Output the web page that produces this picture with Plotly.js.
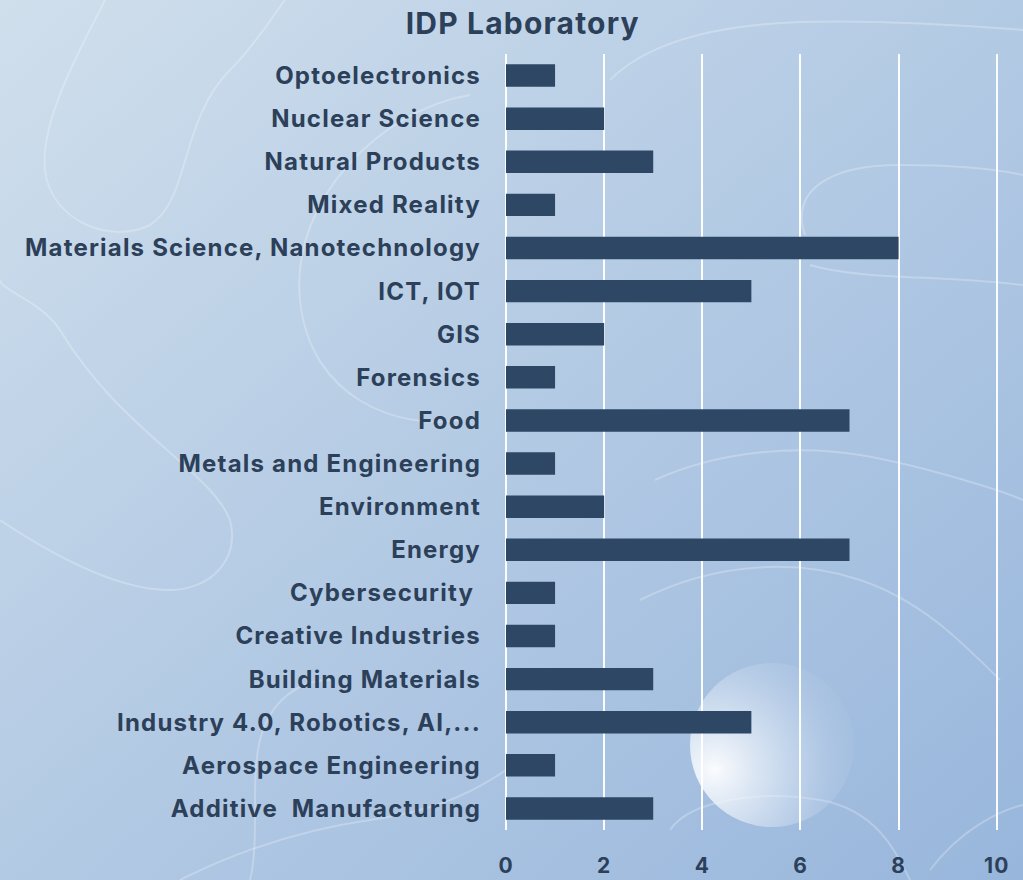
<!DOCTYPE html>
<html>
<head>
<meta charset="utf-8">
<script src="https://cdn.plot.ly/plotly-3.0.1.min.js"></script>
<style>
  html, body { margin:0; padding:0; width:1023px; height:880px; overflow:hidden; }
  #bg { position:absolute; left:0; top:0; width:1023px; height:880px; z-index:0; }
  #chart { position:absolute; left:0; top:0; width:1023px; height:880px; z-index:1; }
  #chart .ytick text { letter-spacing: 1.2px; }
  #chart .xtick text { letter-spacing: 1px; }
  #chart .gtitle { letter-spacing: 1.2px; }
</style>
</head>
<body>
<svg id="bg" width="1023" height="880" xmlns="http://www.w3.org/2000/svg">
  <defs>
    <linearGradient id="g" x1="0" y1="0" x2="1" y2="1">
      <stop offset="0" stop-color="#d0dfec"/>
      <stop offset="0.5" stop-color="#b3cae4"/>
      <stop offset="1" stop-color="#98b6dc"/>
    </linearGradient>
    <radialGradient id="orb" cx="0.15" cy="0.65" r="0.95">
      <stop offset="0" stop-color="#ffffff" stop-opacity="0.95"/>
      <stop offset="0.45" stop-color="#e6eef8" stop-opacity="0.55"/>
      <stop offset="1" stop-color="#b7cce6" stop-opacity="0.05"/>
    </radialGradient>
  </defs>
  <rect width="1023" height="880" fill="url(#g)"/>
  <g fill="none" stroke="#ffffff" stroke-opacity="0.25" stroke-width="2">
    <path d="M105,0 C80,50 40,120 45,170 C50,220 110,245 150,225 C190,200 180,120 230,70 C255,45 270,20 285,0"/>
    <path d="M470,95 C380,110 290,200 300,300 C310,400 400,430 460,420"/>
    <path d="M610,80 C650,40 720,25 800,22 C880,20 960,25 1023,30"/>
    <path d="M805,235 C790,190 830,165 900,165 C960,165 1000,170 1023,175"/>
    <path d="M810,265 C860,280 940,275 1023,285"/>
    <path d="M0,520 C60,560 120,590 170,590 C210,590 240,560 230,520 C210,470 120,430 60,330 C40,300 0,290 0,280"/>
    <path d="M180,880 C240,850 300,830 370,820 C440,810 480,790 520,760"/>
    <path d="M670,830 C690,800 760,790 820,800 C880,810 900,860 910,880"/>
    <path d="M655,480 C720,450 800,445 860,455 C920,465 1000,490 1023,500"/>
    <path d="M640,600 C720,560 800,560 860,580 C920,600 960,640 1000,680"/>
    <path d="M930,870 C960,830 1000,810 1023,805"/>
    <path d="M250,880 C260,840 250,780 260,740 C270,700 300,680 330,680"/>
  </g>
  <circle cx="772" cy="745" r="82" fill="url(#orb)"/>
</svg>
<div id="chart"></div>
<script>
const categories = [
  "Optoelectronics",
  "Nuclear Science",
  "Natural Products",
  "Mixed Reality",
  "Materials Science, Nanotechnology",
  "ICT, IOT",
  "GIS",
  "Forensics",
  "Food",
  "Metals and Engineering",
  "Environment",
  "Energy",
  "Cybersecurity ",
  "Creative Industries",
  "Building Materials",
  "Industry 4.0, Robotics, AI,...",
  "Aerospace Engineering",
  "Additive  Manufacturing"
];
const counts = [1, 2, 3, 1, 8, 5, 2, 1, 7, 1, 2, 7, 1, 1, 3, 5, 1, 3];
const xTicks = [0, 2, 4, 6, 8, 10];
const chartTitle = "IDP Laboratory";

const textColor = "#2c4059";
const barColor = "#2d4764";
const fontFam = "Inter, 'Open Sans', sans-serif";

const trace = {
  type: "bar",
  orientation: "h",
  y: categories,
  x: counts,
  width: 0.52,
  marker: { color: barColor, line: { width: 0 } },
  hoverinfo: "x+y"
};

const layout = {
  width: 1023,
  height: 880,
  paper_bgcolor: "rgba(0,0,0,0)",
  plot_bgcolor: "rgba(0,0,0,0)",
  margin: { l: 506, r: 14, t: 54, b: 50 },
  showlegend: false,
  font: { family: fontFam, color: textColor },
  title: {
    text: "<b>" + chartTitle + "</b>",
    x: 0.511, xanchor: "center", xref: "container",
    y: 0.973, yanchor: "middle", yref: "container",
    font: { size: 30, family: fontFam, color: textColor }
  },
  xaxis: {
    range: [0, 10.25],
    tickvals: xTicks,
    ticktext: xTicks.map(v => "<b>" + v + "</b>"),
    showgrid: true,
    gridcolor: "rgba(255,255,255,0.95)",
    gridwidth: 2,
    zeroline: true,
    zerolinecolor: "rgba(255,255,255,0.95)",
    zerolinewidth: 2,
    showline: false,
    ticks: "",
    tickfont: { size: 21, color: textColor, family: fontFam },
    ticklabelstandoff: 21,
    fixedrange: true
  },
  yaxis: {
    type: "category",
    autorange: "reversed",
    showgrid: false,
    zeroline: false,
    showline: false,
    ticks: "",
    ticklabelstandoff: 24,
    tickvals: categories,
    ticktext: categories.map(c => "<b>" + c + "</b>"),
    tickfont: { size: 24, color: textColor, family: fontFam },
    fixedrange: true
  }
};

Plotly.newPlot("chart", [trace], layout, { displayModeBar: false, staticPlot: true });
</script>
</body>
</html>
